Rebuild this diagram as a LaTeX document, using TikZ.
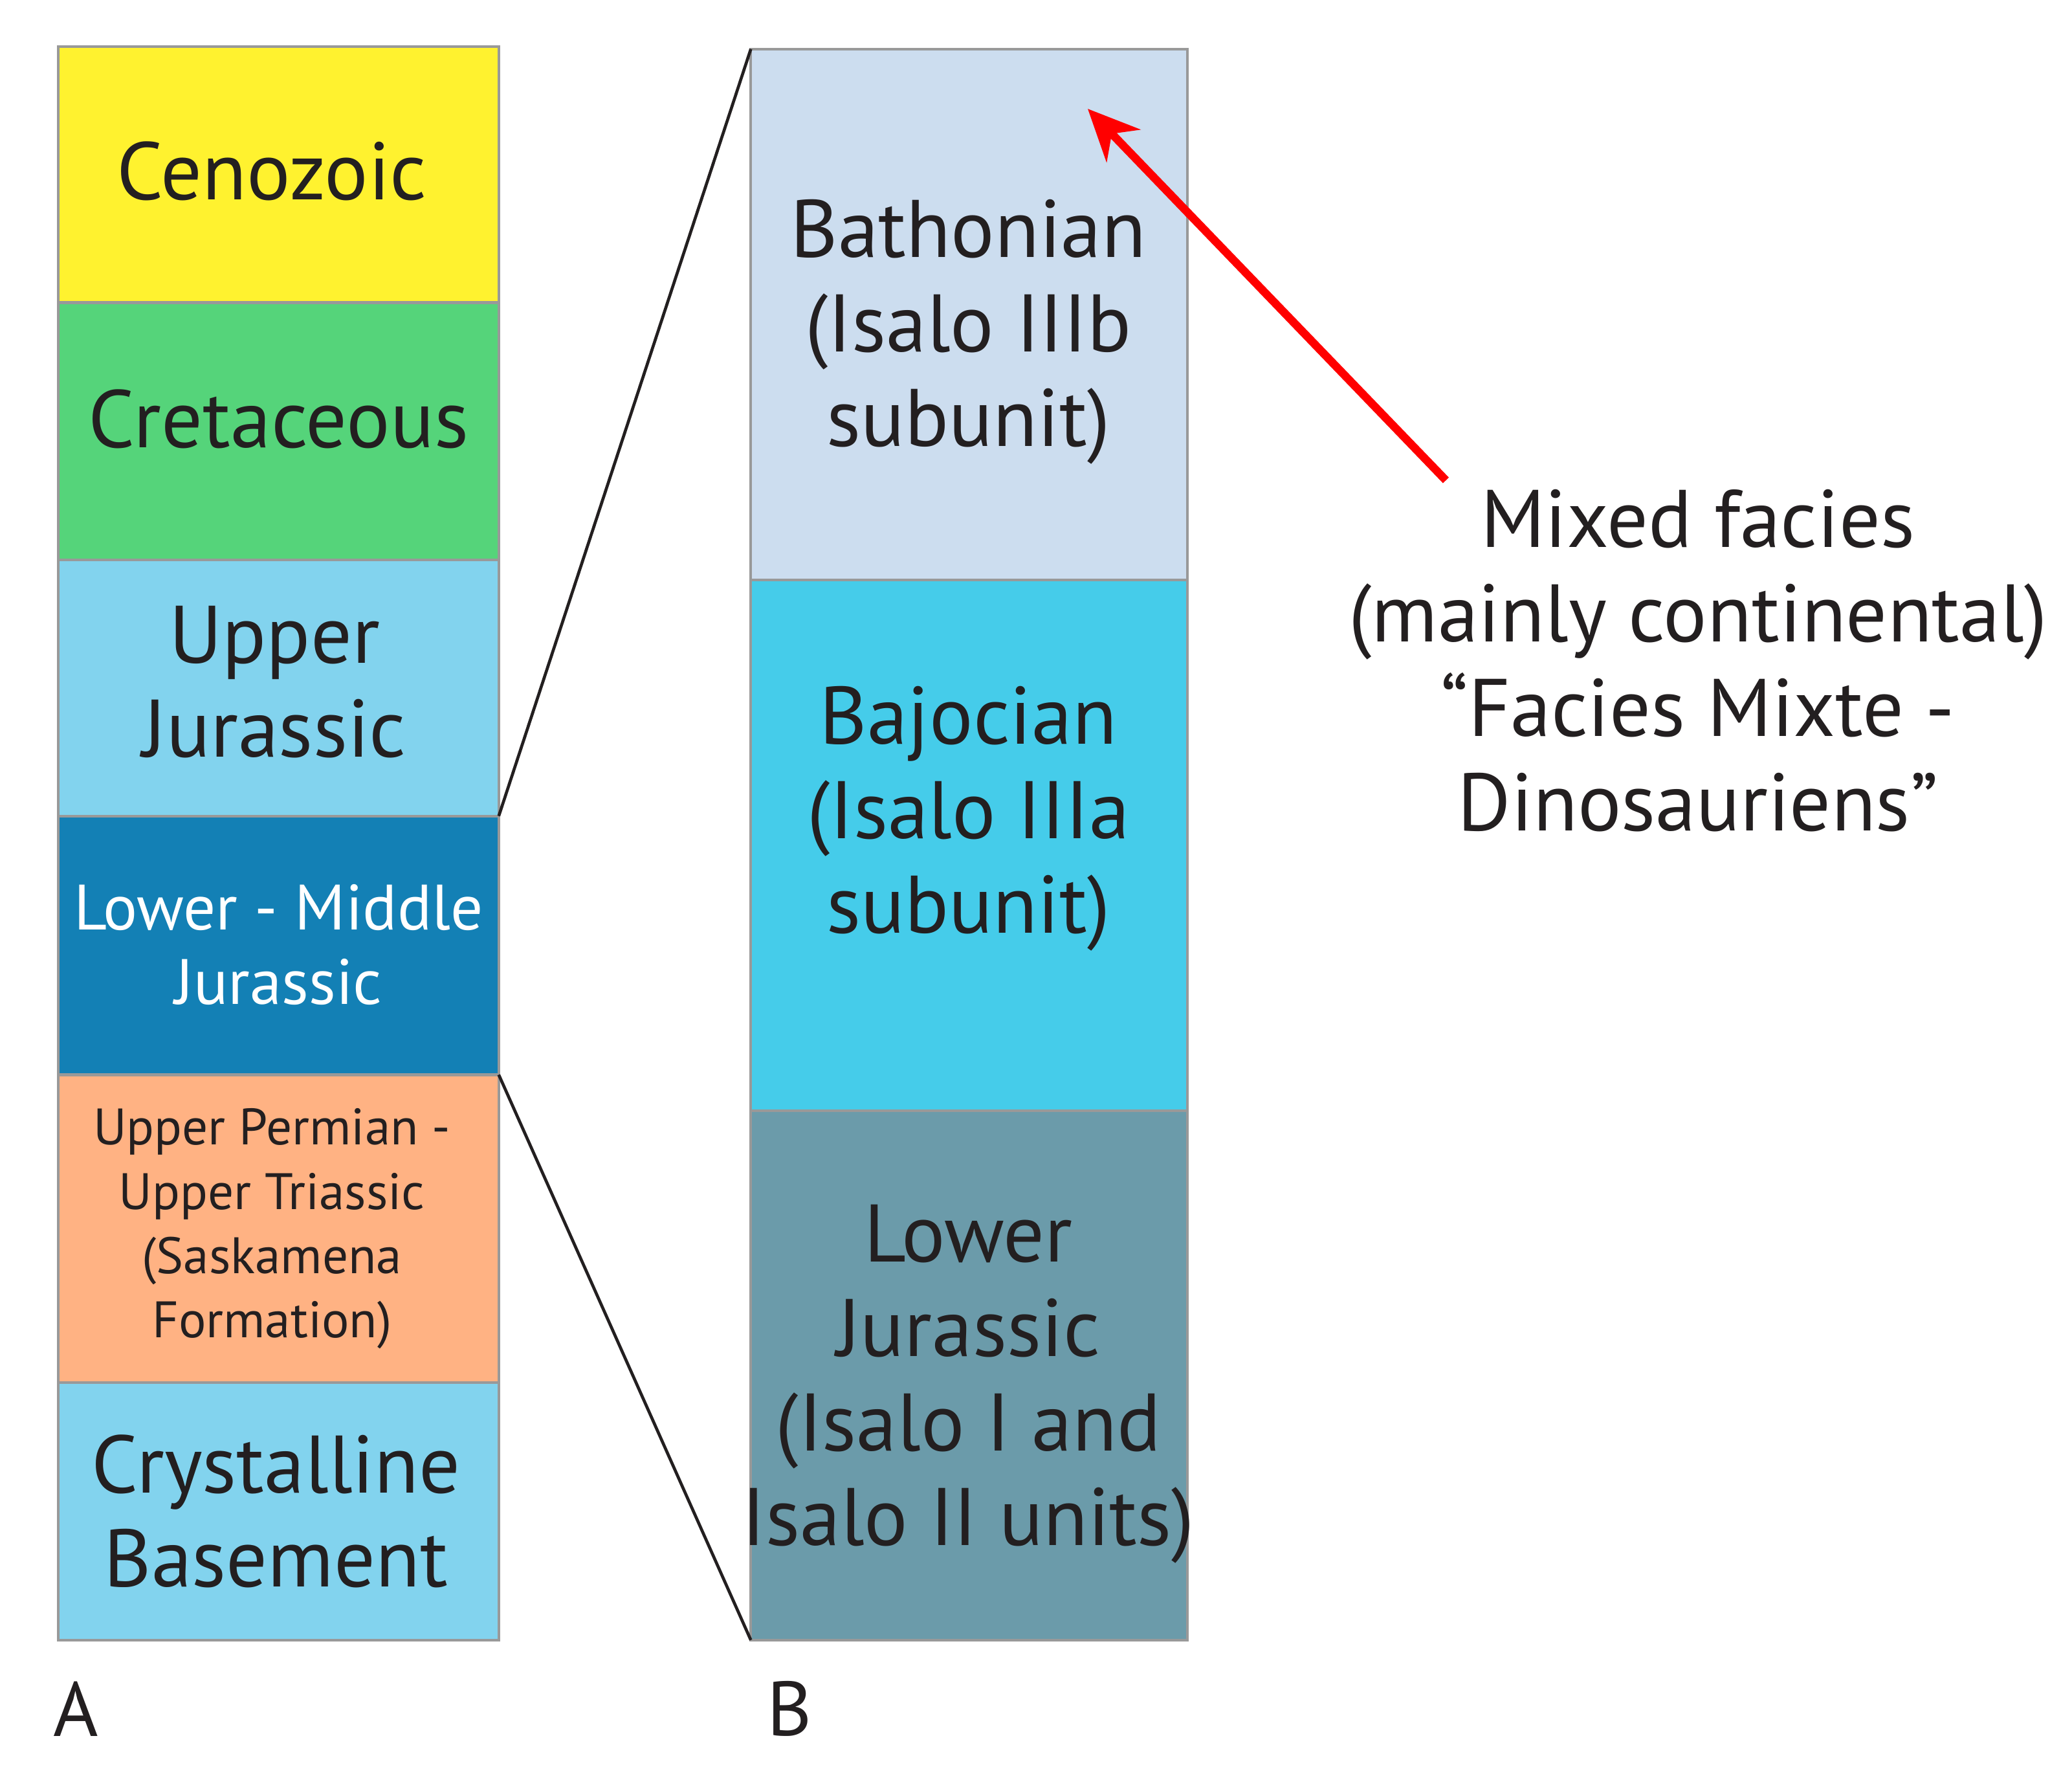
\documentclass[tikz,border=0pt]{standalone}
\usepackage{fontspec}
\usetikzlibrary{arrows.meta}
\setmainfont{PT Sans}
\definecolor{ceno}{HTML}{FFF22F}
\definecolor{cret}{HTML}{55D47A}
\definecolor{ujur}{HTML}{82D3EE}
\definecolor{lmj}{HTML}{1380B5}
\definecolor{perm}{HTML}{FFB283}
\definecolor{crys}{HTML}{82D3EE}
\definecolor{bath}{HTML}{CCDDEF}
\definecolor{bajo}{HTML}{45CCEA}
\definecolor{ljur}{HTML}{6B9BAA}
\definecolor{txt}{HTML}{231F20}
\begin{document}
\begin{tikzpicture}[x=0.2mm,y=-0.2mm,
  box/.style={draw=gray!80,line width=1.2pt},
  lab/.style={align=center,text=txt},
  big/.style={font=\fontsize{35}{40.5}\selectfont},
  mid/.style={font=\fontsize{27.5}{32}\selectfont},
  sml/.style={font=\fontsize{22}{27.5}\selectfont}]
\useasboundingbox (0,0) rectangle (1562,1333);
% column A
\filldraw[box,fill=ceno] (44,35) rectangle (376,228);
\filldraw[box,fill=cret] (44,228) rectangle (376,422);
\filldraw[box,fill=ujur] (44,422) rectangle (376,615);
\filldraw[box,fill=lmj] (44,615) rectangle (376,810);
\filldraw[box,fill=perm] (44,810) rectangle (376,1042);
\filldraw[box,fill=crys] (44,1042) rectangle (376,1236);
\node[lab,big] (a1) at (205,129) {Cenozoic};
\node[lab,big] (a2) at (210,316) {Cretaceous};
\node[lab,big] (a3) at (207,514) {Upper\\Jurassic};
\node[lab,mid,text=white] (a4) at (210,712) {Lower - Middle\\Jurassic};
\node[lab,sml] (a5) at (205,926) {Upper Permian -\\Upper Triassic\\(Saskamena\\Formation)};
\node[lab,big] (a6) at (208,1139) {Crystalline\\Basement};
% column B
\filldraw[box,fill=bath] (566,37) rectangle (895,437);
\filldraw[box,fill=bajo] (566,437) rectangle (895,837);
\filldraw[box,fill=ljur] (566,837) rectangle (895,1236);
\node[lab,big] (b1) at (730,250) {Bathonian\\(Isalo IIIb\\subunit)};
\node[lab,big] (b2) at (730,617) {Bajocian\\(Isalo IIIa\\subunit)};
\node[lab,big] (b3) at (730,1043) {Lower\\Jurassic\\(Isalo I and\\Isalo II units)};
% zoom lines
\coordinate (za) at (376,615); \coordinate (zb) at (566,37);
\coordinate (zc) at (376,810); \coordinate (zd) at (566,1236);
\draw[line width=1.3pt,txt] (za) -- (zb);
\draw[line width=1.3pt,txt] (zc) -- (zd);
% labels
\node[lab,font=\fontsize{33}{33}\selectfont] (la) at (57,1288) {A};
\node[lab,font=\fontsize{33}{33}\selectfont] (lb) at (595,1288) {B};
% annotation
\node[lab,big] (note) at (1280,498) {Mixed facies\\(mainly continental)\\“Facies Mixte -\\Dinosauriens”};
\coordinate (as) at (1090,362); \coordinate (ae) at (820,82);
\draw[red,line width=3.5pt,-{Stealth[length=22pt,width=20pt]}] (as) -- (ae);
\end{tikzpicture}
\end{document}
